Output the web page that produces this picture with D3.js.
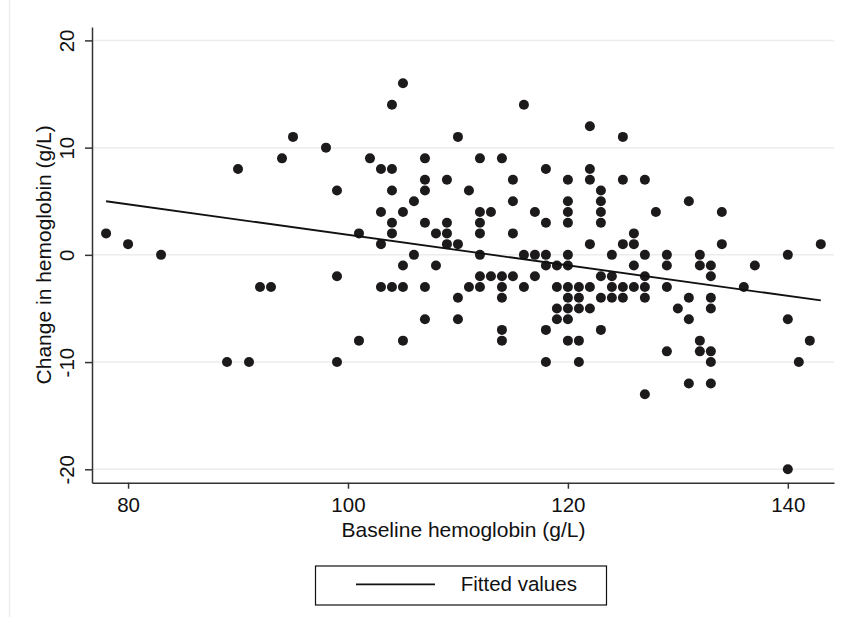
<!DOCTYPE html>
<html>
<head>
<meta charset="utf-8">
<script src="https://cdn.jsdelivr.net/npm/d3@7"></script>
<style>
    body { margin: 0; background: #fff; }
    svg text { font-family: "Liberation Sans", Arial, Helvetica, sans-serif; fill: #111; }
</style>
</head>
<body>
<svg id="chart" width="842" height="617"></svg>
<script>
'use strict';

// baseline hemoglobin (g/L) and change in hemoglobin (g/L), one entry per patient
let baselineHb = [
    78, 80, 83, 89, 90, 91, 92, 93, 94, 95, 98,
    99, 99, 99, 101, 101, 102,
    103, 103, 103, 103,
    104, 104, 104, 104, 104, 104,
    105, 105, 105, 105, 105,
    106, 106,
    107, 107, 107, 107, 107, 107,
    108, 108,
    109, 109, 109, 109,
    110, 110, 110, 110,
    111, 111,
    112, 112, 112, 112, 112, 112, 112,
    113, 113,
    114, 114, 114, 114, 114, 114,
    115, 115, 115, 115,
    116, 116, 116,
    117, 117, 117,
    118, 118, 118, 118, 118, 118,
    119, 119, 119, 119,
    120, 120, 120, 120, 120, 120, 120, 120, 120, 120, 120,
    121, 121, 121, 121, 121,
    122, 122, 122, 122, 122, 122,
    123, 123, 123, 123, 123, 123, 123,
    124, 124, 124, 124,
    125, 125, 125, 125, 125,
    126, 126, 126, 126,
    127, 127, 127, 127, 127, 127,
    128,
    129, 129, 129, 129,
    130,
    131, 131, 131, 131,
    132, 132, 132, 132,
    133, 133, 133, 133, 133, 133, 133,
    134, 134,
    136, 137,
    140, 140, 140,
    141, 142, 143
];
let changeHb = [
    2, 1, 0, -10, 8, -10, -3, -3, 9, 11, 10,
    6, -2, -10, 2, -8, 9,
    8, 4, 1, -3,
    14, 8, 6, 3, 2, -3,
    16, 4, -1, -3, -8,
    5, 0,
    9, 7, 6, 3, -3, -6,
    2, -1,
    7, 3, 2, 1,
    11, 1, -4, -6,
    6, -3,
    9, 4, 3, 2, 0, -2, -3,
    4, -2,
    9, -2, -3, -4, -7, -8,
    7, 5, 2, -2,
    14, 0, -3,
    4, 0, -2,
    8, 3, 0, -1, -7, -10,
    -1, -3, -5, -6,
    7, 5, 4, 3, 0, -1, -3, -4, -5, -6, -8,
    -3, -4, -5, -8, -10,
    12, 8, 7, 1, -3, -5,
    6, 5, 4, 3, -2, -4, -7,
    0, -2, -3, -4,
    11, 7, 1, -3, -4,
    2, 1, -1, -3,
    7, 0, -2, -3, -4, -13,
    4,
    0, -1, -3, -9,
    -5,
    5, -4, -6, -12,
    0, -1, -8, -9,
    -1, -2, -4, -5, -9, -10, -12,
    4, 1,
    -3, -1,
    0, -6, -20,
    -10, -8, 1
];

// fitted regression line, end points
let fitX = [78, 143];
let fitY = [5.0, -4.25];

let xTicks = [80, 100, 120, 140];
let yTicks = [-20, -10, 0, 10, 20];

let xTitle = "Baseline hemoglobin (g/L)";
let yTitle = "Change in hemoglobin (g/L)";
let legendLabel = "Fitted values";

drawChart();

function drawChart() {
    let svg = d3.select("#chart"),
        plot = {left: 92, right: 834, top: 27, bottom: 482.7};

    let x = d3.scaleLinear()
        .domain([76.72, 144.2])
        .range([plot.left, plot.right]);
    let y = d3.scaleLinear()
        .domain([-21.25, 21.25])
        .range([plot.bottom, plot.top]);

    // faint outer border of the graph region
    svg.append("line")
        .attr("x1", 9.5).attr("x2", 9.5)
        .attr("y1", 0).attr("y2", 617)
        .attr("stroke", "#eeeeee")
        .attr("stroke-width", 1.5);

    // horizontal grid
    svg.append("g")
        .selectAll("line")
        .data(yTicks)
        .enter()
        .append("line")
            .attr("x1", plot.left)
            .attr("x2", plot.right)
            .attr("y1", d => y(d))
            .attr("y2", d => y(d))
            .attr("stroke", "#ececec")
            .attr("stroke-width", 1.5);

    let pts = baselineHb.map((b, i) => ({b: b, c: changeHb[i]}));
    svg.append("g")
        .selectAll("circle")
        .data(pts)
        .enter()
        .append("circle")
            .attr("cx", d => x(d.b))
            .attr("cy", d => y(d.c))
            .attr("r", 5)
            .attr("fill", "#1c1a1b");

    let line = d3.line()
        .x(d => x(d[0]))
        .y(d => y(d[1]));
    svg.append("path")
        .attr("d", line(fitX.map((v, i) => [v, fitY[i]])))
        .attr("fill", "none")
        .attr("stroke", "#111")
        .attr("stroke-width", 1.8);

    // plain hyphen for negatives, like the original
    let plainFmt = d => String(d);

    let gx = svg.append("g")
        .attr("transform", "translate(0," + plot.bottom + ")")
        .call(d3.axisBottom(x).tickValues(xTicks).tickSize(6).tickSizeOuter(0).tickFormat(plainFmt));
    gx.selectAll("text")
        .attr("dy", null)
        .attr("y", 29.6)
        .style("font-size", "20.5px");

    let gy = svg.append("g")
        .attr("transform", "translate(" + plot.left + ",0)")
        .call(d3.axisLeft(y).tickValues(yTicks).tickSize(7).tickSizeOuter(0).tickFormat(plainFmt));
    gy.selectAll("text")
        .attr("x", null)
        .attr("dy", null)
        .attr("text-anchor", "middle")
        .attr("transform", "translate(-18,0) rotate(-90)")
        .style("font-size", "20.5px");

    svg.selectAll(".domain, .tick line")
        .attr("stroke", "#333")
        .attr("stroke-width", 1.5);

    svg.append("text")      // x-axis title
        .attr("x", (plot.left + plot.right) / 2 + 0.5)
        .attr("y", 537.3)
        .attr("text-anchor", "middle")
        .style("font-size", "21px")
        .text(xTitle);

    svg.append("text")      // y-axis title
        .attr("transform", "translate(51," + ((plot.top + plot.bottom) / 2) + ") rotate(-90)")
        .attr("text-anchor", "middle")
        .style("font-size", "21px")
        .text(yTitle);

    // legend
    let lg = svg.append("g");
    lg.append("rect")
        .attr("x", 315.5).attr("y", 566)
        .attr("width", 291).attr("height", 39)
        .attr("fill", "#fff")
        .attr("stroke", "#111")
        .attr("stroke-width", 1.2);
    lg.append("line")
        .attr("x1", 356).attr("x2", 435)
        .attr("y1", 584.3).attr("y2", 584.3)
        .attr("stroke", "#111")
        .attr("stroke-width", 1.8);
    lg.append("text")
        .attr("x", 460.7)
        .attr("y", 590.5)
        .style("font-size", "20.5px")
        .text(legendLabel);
}
</script>
</body>
</html>
